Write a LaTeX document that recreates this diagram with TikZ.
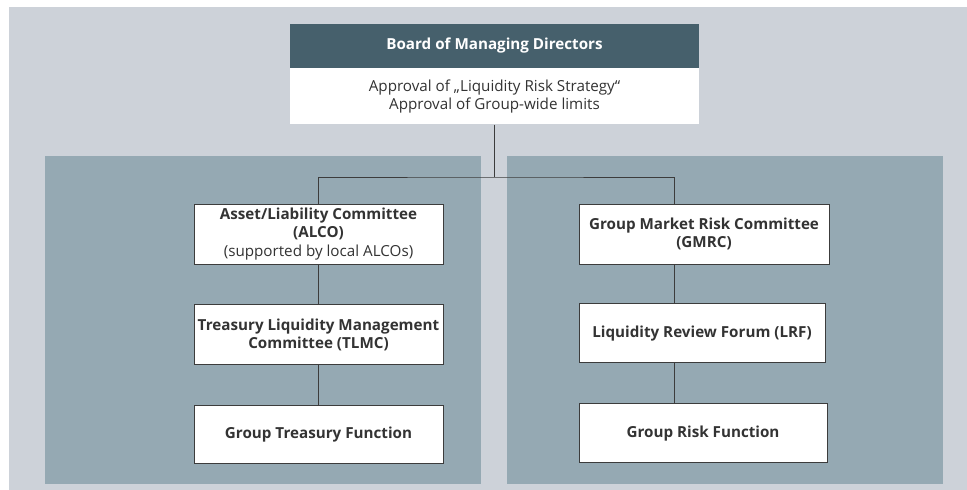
\documentclass[tikz,border=0pt]{standalone}
\usepackage{fontspec}
\setmainfont{Open Sans}
\usepackage{tikz}
\usetikzlibrary{positioning}

\definecolor{outergray}{RGB}{205,210,217}
\definecolor{panelblue}{RGB}{149,169,179}
\definecolor{headblue}{RGB}{70,96,108}
\definecolor{textgray}{RGB}{51,51,51}
\definecolor{linegray}{RGB}{60,60,60}

\begin{document}
\begin{tikzpicture}[
  x=1pt, y=-1pt,
  node distance=40pt,
  every node/.style={font=\fontsize{15.2}{18.3}\selectfont, text=textgray, align=center, inner sep=1pt},
  unit/.style={draw=linegray, line width=0.9pt, fill=white, minimum width=249pt, minimum height=60pt, font=\fontsize{15.2}{18.3}\selectfont\bfseries},
  board/.style={fill=headblue, text=white, minimum width=409pt, minimum height=44pt, font=\fontsize{15.2}{18.3}\selectfont\bfseries},
  boardtext/.style={fill=white, minimum width=409pt, minimum height=56pt},
  link/.style={draw=linegray, line width=0.9pt}
]
  \useasboundingbox (0,0) rectangle (967,490);

  % background and the two column panels
  \fill[outergray] (9,7) rectangle (967,490);
  \fill[panelblue] (45,156) rectangle (481,484);
  \fill[panelblue] (507,156) rectangle (943,484);

  % top of the hierarchy
  \node[board] (bmd) at (494.5,46) {Board of Managing Directors};
  \node[boardtext, below=0pt of bmd] (approval) {Approval of „Liquidity Risk Strategy“\\Approval of Group-wide limits};

  % treasury side
  \node[unit] (alco) at (318.5,234) {Asset/Liability Committee\\(ALCO)\\{\mdseries (supported by local ALCOs)}};
  \node[unit, below=of alco] (tlmc) {Treasury Liquidity Management\\Committee (TLMC)};
  \node[unit, below=of tlmc, minimum height=58pt] (gtf) {Group Treasury Function};

  % risk side
  \node[unit, minimum width=250pt] (gmrc) at (704,234) {Group Market Risk Committee\\(GMRC)};
  \node[unit, below=39pt of gmrc, minimum width=246pt, minimum height=59pt, xshift=-2pt] (lrf) {Liquidity Review Forum (LRF)};
  \node[unit, below=40pt of lrf, minimum width=248pt, minimum height=59pt, xshift=1pt] (grf) {Group Risk Function};

  % connectors
  \coordinate (split) at (approval.south |- 0,177);
  \coordinate (rline) at ([xshift=-30pt]gmrc.north);
  \draw[link] (approval.south) -- (split);
  \draw[link] (alco.north) |- (split) -| (rline);
  \draw[link] (alco) -- (tlmc);
  \draw[link] (tlmc) -- (gtf);
  \draw[link] (gmrc.south -| rline) -- (lrf.north -| rline);
  \draw[link] (lrf.south -| rline) -- (grf.north -| rline);
\end{tikzpicture}
\end{document}
